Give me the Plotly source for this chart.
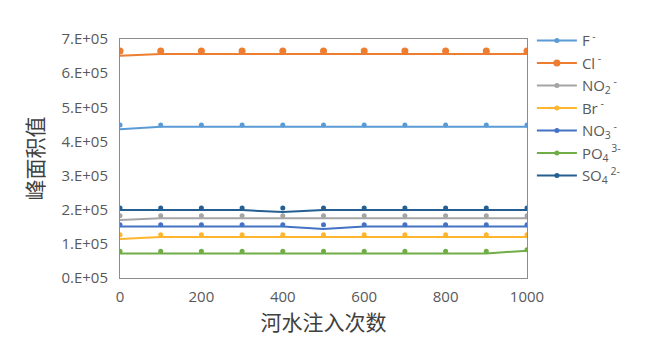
import plotly.graph_objects as go

x_vals = [0, 100, 200, 300, 400, 500, 600, 700, 800, 900, 1000]

names = ["F<sup> -</sup>", "Cl<sup> -</sup>", "NO<sub>2</sub><sup> -</sup>", "Br<sup> -</sup>",
         "NO<sub>3</sub><sup> -</sup>", "PO<sub>4</sub><sup> 3-</sup>", "SO<sub>4</sub><sup> 2-</sup>"]
colors = ["#5B9BD5", "#ED7D31", "#A5A5A5", "#FFB52E", "#4472C4", "#70AD47", "#255E91"]
marker_sizes = [5, 7, 5, 5, 5, 5, 5]

# line values (peak area)
F_line = [4.36e5, 4.43e5, 4.43e5, 4.43e5, 4.43e5, 4.43e5, 4.43e5, 4.43e5, 4.43e5, 4.43e5, 4.43e5]
Cl_line = [6.51e5, 6.56e5, 6.56e5, 6.56e5, 6.56e5, 6.56e5, 6.56e5, 6.56e5, 6.56e5, 6.56e5, 6.56e5]
NO2_line = [1.70e5, 1.75e5, 1.75e5, 1.75e5, 1.75e5, 1.75e5, 1.75e5, 1.75e5, 1.75e5, 1.75e5, 1.75e5]
Br_line = [1.14e5, 1.20e5, 1.20e5, 1.20e5, 1.20e5, 1.20e5, 1.20e5, 1.20e5, 1.20e5, 1.20e5, 1.20e5]
NO3_line = [1.51e5, 1.51e5, 1.51e5, 1.51e5, 1.51e5, 1.435e5, 1.51e5, 1.51e5, 1.51e5, 1.51e5, 1.51e5]
PO4_line = [0.72e5, 0.72e5, 0.72e5, 0.72e5, 0.72e5, 0.72e5, 0.72e5, 0.72e5, 0.72e5, 0.72e5, 0.80e5]
SO4_line = [1.99e5, 1.99e5, 1.99e5, 1.99e5, 1.93e5, 1.99e5, 1.99e5, 1.99e5, 1.99e5, 1.99e5, 1.99e5]

# marker values
F_mark = [4.48e5, 4.48e5, 4.48e5, 4.48e5, 4.48e5, 4.48e5, 4.48e5, 4.48e5, 4.48e5, 4.48e5, 4.48e5]
Cl_mark = [6.65e5, 6.65e5, 6.65e5, 6.65e5, 6.65e5, 6.65e5, 6.65e5, 6.65e5, 6.65e5, 6.65e5, 6.65e5]
NO2_mark = [1.82e5, 1.82e5, 1.82e5, 1.82e5, 1.82e5, 1.82e5, 1.82e5, 1.82e5, 1.82e5, 1.82e5, 1.82e5]
Br_mark = [1.27e5, 1.27e5, 1.27e5, 1.27e5, 1.27e5, 1.27e5, 1.27e5, 1.27e5, 1.27e5, 1.27e5, 1.27e5]
NO3_mark = [1.56e5, 1.56e5, 1.56e5, 1.56e5, 1.56e5, 1.56e5, 1.56e5, 1.56e5, 1.56e5, 1.56e5, 1.56e5]
PO4_mark = [0.78e5, 0.78e5, 0.78e5, 0.78e5, 0.78e5, 0.78e5, 0.78e5, 0.78e5, 0.78e5, 0.78e5, 0.83e5]
SO4_mark = [2.05e5, 2.05e5, 2.05e5, 2.05e5, 2.05e5, 2.05e5, 2.05e5, 2.05e5, 2.05e5, 2.05e5, 2.05e5]

lines = [F_line, Cl_line, NO2_line, Br_line, NO3_line, PO4_line, SO4_line]
marks = [F_mark, Cl_mark, NO2_mark, Br_mark, NO3_mark, PO4_mark, SO4_mark]

y_tickvals = [0, 1e5, 2e5, 3e5, 4e5, 5e5, 6e5, 7e5]
y_ticktext = ["0.E+05", "1.E+05", "2.E+05", "3.E+05", "4.E+05", "5.E+05", "6.E+05", "7.E+05"]
x_tickvals = [0, 200, 400, 600, 800, 1000]

fig = go.Figure()
for i in range(len(names)):
    fig.add_trace(go.Scatter(x=x_vals, y=lines[i], mode="lines",
                             line=dict(color=colors[i], width=2),
                             showlegend=False, hoverinfo="skip"))
    fig.add_trace(go.Scatter(x=x_vals, y=marks[i], mode="markers",
                             marker=dict(color=colors[i], size=marker_sizes[i]),
                             showlegend=False))
for i in range(len(names)):
    fig.add_trace(go.Scatter(x=[None], y=[None], mode="lines+markers", name=names[i],
                             line=dict(color=colors[i], width=2),
                             marker=dict(color=colors[i], size=marker_sizes[i])))

fig.update_layout(
    width=646, height=352,
    margin=dict(l=120, r=119, t=39, b=74),
    paper_bgcolor="white", plot_bgcolor="white",
    font=dict(family="Open Sans", color="#595959", size=14),
    legend=dict(x=1.012, xanchor="left", y=1.062, yanchor="top",
                font=dict(family="Open Sans", size=15, color="#595959"),
                tracegroupgap=0, itemwidth=40, bgcolor="rgba(0,0,0,0)"),
    xaxis=dict(range=[0, 1000], tickvals=x_tickvals, showline=True, mirror=True,
               linecolor="#8C8C8C", linewidth=1, showgrid=False, zeroline=False,
               ticks="outside", ticklen=5, tickcolor="rgba(0,0,0,0)",
               tickfont=dict(size=15, color="#595959"),
               title=dict(text="河水注入次数", font=dict(family="Noto Sans CJK SC", size=21, color="#404040"),
                          standoff=10)),
    yaxis=dict(range=[0, 7e5], tickvals=y_tickvals, ticktext=y_ticktext, showline=True, mirror=True,
               linecolor="#8C8C8C", linewidth=1, showgrid=False, zeroline=False,
               ticks="outside", ticklen=8, tickcolor="rgba(0,0,0,0)",
               tickfont=dict(size=15, color="#595959"),
               title=dict(text="峰面积值", font=dict(family="Noto Sans CJK SC", size=21, color="#404040"),
                          standoff=12)),
)

fig.write_html("out.html")
